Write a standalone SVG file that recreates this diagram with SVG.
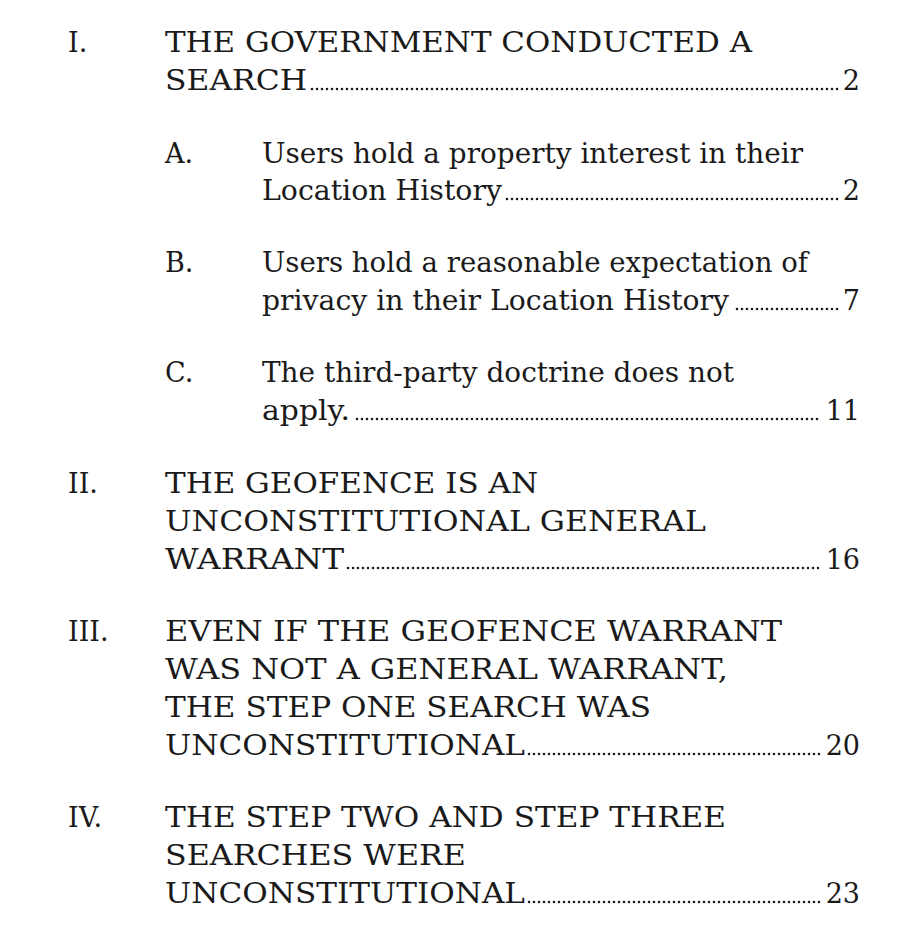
<svg xmlns="http://www.w3.org/2000/svg" width="908" height="944" viewBox="0 0 908 944">
<style>
text{font-family:"DejaVu Serif","Liberation Serif",serif;font-size:27px;fill:#1a1a1a}
.d{stroke:#1a1a1a;stroke-width:2.6;stroke-dasharray:0 5;stroke-linecap:round}
.n{text-anchor:end}
</style>
<rect width="908" height="944" fill="#fff"/>
<text x="68" y="52">I.</text>
<text x="165" y="52" textLength="587" lengthAdjust="spacingAndGlyphs">THE GOVERNMENT CONDUCTED A</text>
<text x="165" y="90" textLength="142" lengthAdjust="spacingAndGlyphs">SEARCH</text>
<line class="d" x1="312" y1="89" x2="838" y2="89"/><text class="n" x="860" y="90">2</text>
<text x="165" y="163">A.</text>
<text x="262" y="163" textLength="541" lengthAdjust="spacingAndGlyphs">Users hold a property interest in their</text>
<text x="262" y="200" textLength="240" lengthAdjust="spacingAndGlyphs">Location History</text>
<line class="d" x1="507" y1="199" x2="838" y2="199"/><text class="n" x="860" y="200">2</text>
<text x="165" y="272">B.</text>
<text x="262" y="272" textLength="546" lengthAdjust="spacingAndGlyphs">Users hold a reasonable expectation of</text>
<text x="262" y="310" textLength="467" lengthAdjust="spacingAndGlyphs">privacy in their Location History</text>
<line class="d" x1="737" y1="309" x2="838" y2="309"/><text class="n" x="860" y="310">7</text>
<text x="165" y="382">C.</text>
<text x="262" y="382" textLength="472" lengthAdjust="spacingAndGlyphs">The third-party doctrine does not</text>
<text x="262" y="420" textLength="88" lengthAdjust="spacingAndGlyphs">apply.</text>
<line class="d" x1="357" y1="419" x2="822" y2="419"/><text class="n" x="860" y="420">11</text>
<text x="68" y="493">II.</text>
<text x="165" y="493" textLength="373" lengthAdjust="spacingAndGlyphs">THE GEOFENCE IS AN</text>
<text x="165" y="531" textLength="541" lengthAdjust="spacingAndGlyphs">UNCONSTITUTIONAL GENERAL</text>
<text x="165" y="569" textLength="179" lengthAdjust="spacingAndGlyphs">WARRANT</text>
<line class="d" x1="348" y1="568" x2="822" y2="568"/><text class="n" x="860" y="569">16</text>
<text x="68" y="641">III.</text>
<text x="165" y="641" textLength="617" lengthAdjust="spacingAndGlyphs">EVEN IF THE GEOFENCE WARRANT</text>
<text x="165" y="679" textLength="563" lengthAdjust="spacingAndGlyphs">WAS NOT A GENERAL WARRANT,</text>
<text x="165" y="717" textLength="486" lengthAdjust="spacingAndGlyphs">THE STEP ONE SEARCH WAS</text>
<text x="165" y="755" textLength="360" lengthAdjust="spacingAndGlyphs">UNCONSTITUTIONAL</text>
<line class="d" x1="529" y1="754" x2="822" y2="754"/><text class="n" x="860" y="755">20</text>
<text x="68" y="827">IV.</text>
<text x="165" y="827" textLength="561" lengthAdjust="spacingAndGlyphs">THE STEP TWO AND STEP THREE</text>
<text x="165" y="865" textLength="301" lengthAdjust="spacingAndGlyphs">SEARCHES WERE</text>
<text x="165" y="903" textLength="360" lengthAdjust="spacingAndGlyphs">UNCONSTITUTIONAL</text>
<line class="d" x1="529" y1="902" x2="822" y2="902"/><text class="n" x="860" y="903">23</text>
</svg>
